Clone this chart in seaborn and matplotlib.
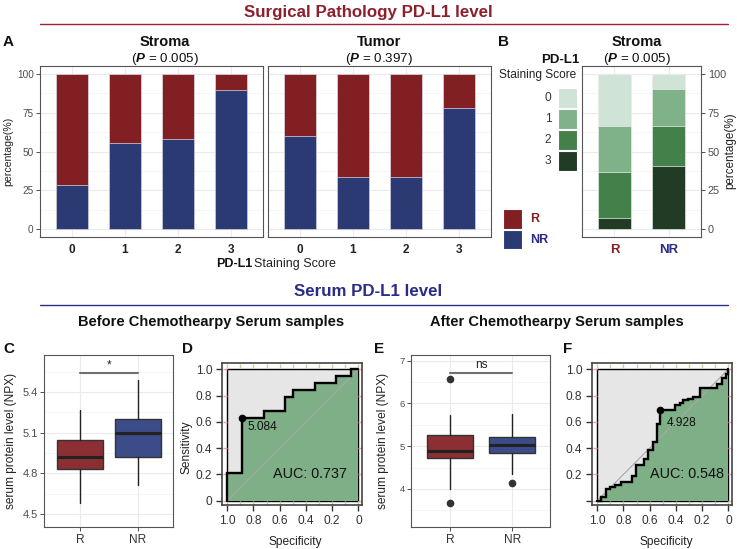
import numpy as np
import matplotlib
matplotlib.use("Agg")
import matplotlib.pyplot as plt
import seaborn as sns
from matplotlib.patches import Rectangle
from matplotlib.lines import Line2D

# ---------------- data ----------------
scores = ["0", "1", "2", "3"]
stroma_nr = [28.6, 55.6, 57.9, 89.5]
stroma_r = [71.4, 44.4, 42.1, 10.5]
tumor_nr = [60.0, 33.3, 33.3, 77.8]
tumor_r = [40.0, 66.7, 66.7, 22.2]

groups = ["R", "NR"]
b_score0 = [33.4, 9.6]
b_score1 = [29.8, 23.8]
b_score2 = [29.8, 26.2]
b_score3 = [7.0, 40.4]

# serum boxplot statistics (C: before, E: after)
c_whislo = [4.583, 4.714]
c_q1 = [4.830, 4.918]
c_med = [4.918, 5.095]
c_q3 = [5.043, 5.200]
c_whishi = [5.269, 5.490]
c_fliers = [[], []]
c_bracket = 5.542

e_whislo = [3.99, 4.36]
e_q1 = [4.727, 4.830]
e_med = [4.883, 5.016]
e_q3 = [5.250, 5.220]
e_whishi = [5.72, 5.75]
e_fliers = [[6.57, 3.68], [4.15]]
e_bracket = 6.72

# ROC curves (specificity, sensitivity vertices)
d_spec = [1, 1, 0.889, 0.889, 0.722, 0.722, 0.556, 0.556, 0.5, 0.5, 0.333, 0.333,
          0.167, 0.167, 0.056, 0.056, 0]
d_sens = [0, 0.211, 0.211, 0.632, 0.632, 0.684, 0.684, 0.789, 0.789, 0.842, 0.842,
          0.895, 0.895, 0.947, 0.947, 1, 1]
d_best = [0.889, 0.632]
d_thr = "5.084"
d_auc = "AUC: 0.737"

f_spec = [1, 0.970, 0.970, 0.937, 0.937, 0.906, 0.906, 0.863, 0.863, 0.818, 0.818,
          0.737, 0.737, 0.704, 0.704, 0.641, 0.641, 0.610, 0.610, 0.575, 0.575,
          0.547, 0.547, 0.524, 0.524, 0.405, 0.405, 0.372, 0.372, 0.342, 0.342,
          0.304, 0.304, 0.271, 0.271, 0.215, 0.215, 0.084, 0.084, 0.051, 0.051,
          0.018, 0.018, 0, 0]
f_sens = [0, 0, 0.025, 0.025, 0.087, 0.087, 0.104, 0.104, 0.120, 0.120, 0.140,
          0.140, 0.186, 0.186, 0.272, 0.272, 0.318, 0.318, 0.387, 0.387, 0.445,
          0.445, 0.585, 0.585, 0.687, 0.687, 0.725, 0.725, 0.746, 0.746, 0.763,
          0.763, 0.776, 0.776, 0.789, 0.789, 0.858, 0.858, 0.891, 0.891, 0.934,
          0.934, 0.967, 0.967, 1]
f_best = [0.524, 0.687]
f_thr = "4.928"
f_auc = "AUC: 0.548"

# ---------------- style ----------------
sns.set_style("white")
plt.rcParams["font.family"] = ["Liberation Sans", "DejaVu Sans"]
plt.rcParams["mathtext.fontset"] = "custom"
plt.rcParams["mathtext.rm"] = "Liberation Sans"
plt.rcParams["mathtext.bf"] = "Liberation Sans:italic:bold"

RED = "#821F23"
BLUE = "#2B3A73"
BOX_R = "#8B2F33"
BOX_NR = "#3C4C88"
GREENS = ["#CFE4D6", "#80B28A", "#43804A", "#213B24"]
TITLE_RED = "#8E1F2D"
TITLE_BLUE = "#2A2C85"
GRID = "#EBEBEB"
SPINE = "#555555"

W, H = 737, 549
fig = plt.figure(figsize=(W / 100, H / 100), dpi=100)


def add_ax(x0, y0, x1, y1):
    return fig.add_axes([x0 / W, 1 - y1 / H, (x1 - x0) / W, (y1 - y0) / H])


def style_frame(ax, color=SPINE, lw=0.8):
    for s in ax.spines.values():
        s.set_visible(True)
        s.set_color(color)
        s.set_linewidth(lw)


def pct_grid(ax):
    ax.set_ylim(-5, 105)
    ax.set_yticks([0, 25, 50, 75, 100])
    ax.set_yticks([12.5, 37.5, 62.5, 87.5], minor=True)
    ax.set_axisbelow(True)
    ax.grid(True, which="major", color=GRID, lw=0.8)
    ax.grid(True, which="minor", axis="y", color="#F3F3F3", lw=0.5)


# ---------------- panel A ----------------
for (x0, x1, nr, r, show_y) in [(40, 263, stroma_nr, stroma_r, True),
                                (268, 491, tumor_nr, tumor_r, False)]:
    ax = add_ax(x0, 66, x1, 237)
    total = np.add(nr, r)
    sns.barplot(x=scores, y=total, color=RED, saturation=1, width=0.6,
                edgecolor="#D9D9E6", linewidth=0.5, errorbar=None, ax=ax)
    sns.barplot(x=scores, y=nr, color=BLUE, saturation=1, width=0.6,
                edgecolor="#D9D9E6", linewidth=0.5, errorbar=None, ax=ax)
    ax.set_xlim(-0.6, 3.6)
    pct_grid(ax)
    ax.set_xlabel("")
    ax.set_ylabel("")
    ax.set_xticks(range(4))
    ax.set_xticklabels(scores, fontweight="bold")
    ax.tick_params(axis="x", length=3, width=0.6, color="#333333", labelsize=8.5,
                   labelcolor="#222222", pad=2)
    if show_y:
        ax.tick_params(axis="y", which="major", length=3, width=0.6, color="#333333",
                       labelsize=7.2, labelcolor="#4D4D4D", pad=1.5, left=True)
    else:
        ax.tick_params(axis="y", which="both", length=0, labelleft=False)
    ax.tick_params(axis="y", which="minor", length=0)
    style_frame(ax)

# ---------------- panel B ----------------
axb = add_ax(582, 66, 701, 237)
layers = np.array([b_score3, b_score2, b_score1, b_score0])
cum = np.cumsum(layers, axis=0)
for i, col in zip([3, 2, 1, 0], GREENS):
    sns.barplot(x=groups, y=cum[i], color=col, saturation=1, width=0.6,
                edgecolor="#E8EFE8", linewidth=0.5, errorbar=None, ax=axb)
axb.set_xlim(-0.6, 1.6)
pct_grid(axb)
axb.set_xlabel("")
axb.set_ylabel("")
axb.yaxis.tick_right()
axb.set_xticks([0, 1])
axb.set_xticklabels(groups, fontweight="bold")
for lbl, c in zip(axb.get_xticklabels(), [RED, TITLE_BLUE]):
    lbl.set_color(c)
axb.tick_params(axis="x", length=3, width=0.6, color="#333333", labelsize=9.5, pad=2)
axb.tick_params(axis="y", which="major", length=3, width=0.6, color="#333333",
                labelsize=7.8, labelcolor="#4D4D4D", pad=2, right=True, left=False)
axb.tick_params(axis="y", which="minor", length=0)
style_frame(axb)


# ---------------- panels C / E ----------------
def box_panel(x0, x1, whislo, q1, med, q3, whishi, fliers, ylim, major, minor,
              bracket, btxt, width, ticksize):
    ax = add_ax(x0, 355, x1, 527)
    stats = []
    for i in range(2):
        stats.append(dict(med=med[i], q1=q1[i], q3=q3[i], whislo=whislo[i],
                          whishi=whishi[i], fliers=fliers[i]))
    bp = ax.bxp(stats, positions=[0, 1], widths=width, patch_artist=True,
                showcaps=False, manage_ticks=False,
                boxprops=dict(edgecolor="#333333", linewidth=1.0),
                medianprops=dict(color="#222222", linewidth=2.2),
                whiskerprops=dict(color="#222222", linewidth=1.0),
                flierprops=dict(marker="o", markerfacecolor="#333333",
                                markeredgecolor="#333333", markersize=4.5))
    for patch, c in zip(bp["boxes"], [BOX_R, BOX_NR]):
        patch.set_facecolor(c)
    ax.plot([0, 1], [bracket, bracket], color="#707070", lw=1.5)
    ax.annotate(btxt, xy=(0.5, bracket), xytext=(0, 1), textcoords="offset points",
                ha="center", va="bottom", fontsize=8.5, color="#222222")
    ax.set_xlim(-0.63, 1.61)
    ax.set_ylim(*ylim)
    ax.set_yticks(major)
    ax.set_yticks(minor, minor=True)
    ax.set_xticks([0, 1])
    ax.set_xticklabels(groups)
    ax.set_axisbelow(True)
    ax.grid(True, which="major", color=GRID, lw=0.8)
    ax.grid(True, which="minor", axis="y", color="#F3F3F3", lw=0.5)
    ax.tick_params(axis="y", which="major", length=3, width=0.6, color="#333333",
                   labelsize=ticksize, labelcolor="#4D4D4D", pad=1.5, left=True)
    ax.tick_params(axis="y", which="minor", length=0)
    ax.tick_params(axis="x", length=3, width=0.6, color="#333333", labelsize=8.6,
                   labelcolor="#333333", pad=2, bottom=True)
    style_frame(ax)
    return ax


box_panel(44, 173, c_whislo, c_q1, c_med, c_q3, c_whishi, c_fliers,
          (4.404, 5.673), [4.5, 4.8, 5.1, 5.4], [4.65, 4.95, 5.25, 5.55],
          c_bracket, "*", 0.8, 8.0)
box_panel(411, 550, e_whislo, e_q1, e_med, e_q3, e_whishi, e_fliers,
          (3.11, 7.13), [4, 5, 6, 7], [3.5, 4.5, 5.5, 6.5],
          e_bracket, "ns", 0.75, 6.8)


# ---------------- panels D / F ----------------
def roc_panel(x0, x1, spec, sens, best, thr, auc, thr_pos, auc_pos, ylabels):
    ax = add_ax(x0, 363, x1, 505)
    ax.set_facecolor("white")
    ax.add_patch(Rectangle((0, 0), 1, 1, facecolor="#E6E6E6", edgecolor="black",
                           lw=1.0, zorder=0.5))
    ax.fill(np.r_[spec, 0, 1], np.r_[sens, 0, 0], color="#7FAF86", lw=0, zorder=1)
    ax.plot([1, 0], [0, 1], color="#A8A8A8", lw=0.8, zorder=1.5)
    ax.plot(spec, sens, color="black", lw=1.7, zorder=3, solid_joinstyle="miter")
    ax.plot([best[0]], [best[1]], "o", color="black", markersize=4.5, zorder=4)
    ax.text(thr_pos[0], thr_pos[1], thr, ha="left", va="center", fontsize=8.6,
            color="#111111", zorder=5)
    ax.text(auc_pos[0], auc_pos[1], auc, ha="left", va="center", fontsize=10.4,
            color="#111111", zorder=5)
    # small coloured grid stubs in the frame band
    for g in np.arange(0, 1.01, 0.1):
        ax.plot([g], [1.024], marker="|", color="#B5DC9A", markersize=2.2, zorder=2)
        ax.plot([g], [-0.016], marker="|", color="#B5DC9A", markersize=2.2, zorder=2)
    for g in np.arange(0, 1.01, 0.2):
        ax.plot([1.02], [g], marker="_", color="#F0A0A0", markersize=2.2, zorder=2)
        ax.plot([-0.014], [g], marker="_", color="#F0A0A0", markersize=2.2, zorder=2)
    ax.set_xlim(1.04, -0.028)
    ax.set_ylim(-0.033, 1.048)
    ticks = [1.0, 0.8, 0.6, 0.4, 0.2, 0.0]
    ax.set_xticks(ticks)
    ax.set_xticklabels(["1.0", "0.8", "0.6", "0.4", "0.2", "0"])
    ax.set_yticks(ticks)
    ax.set_yticklabels(ylabels)
    ax.tick_params(axis="both", length=4, width=1.0, color="#333333", labelsize=8.6,
                   labelcolor="#333333", pad=3, left=True, bottom=True)
    ax.grid(False)
    style_frame(ax, color="#444444", lw=1.2)
    return ax


roc_panel(222, 362, d_spec, d_sens, d_best, d_thr, d_auc, (0.842, 0.56), (0.65, 0.20),
          ["1.0", "0.8", "0.6", "0.4", "0.2", "0"])
roc_panel(592, 732, f_spec, f_sens, f_best, f_thr, f_auc, (0.468, 0.59), (0.595, 0.20),
          ["1.0", "0.8", "0.6", "0.4", "0.2", ""])

# ---------------- overlay texts ----------------
ov = fig.add_axes([0, 0, 1, 1])
ov.set_xlim(0, W)
ov.set_ylim(H, 0)
ov.axis("off")


def t(x, y, s, size, weight="normal", color="#111111", ha="center", va="center", rot=0):
    ov.text(x, y, s, fontsize=size, fontweight=weight, color=color, ha=ha, va=va,
            rotation=rot)


t(368, 12, "Surgical Pathology PD-L1 level", 12.2, "bold", TITLE_RED)
ov.add_line(Line2D([40, 728], [23.5, 23.5], color="#9B2335", lw=1.0))
t(3, 42, "A", 11, "bold", ha="left")
t(165, 42, "Stroma", 10.5, "bold")
t(165, 59, r"($\mathbf{P}$ = 0.005)", 9.6)
t(379, 42, "Tumor", 10.5, "bold")
t(379, 59, r"($\mathbf{P}$ = 0.397)", 9.6)
t(498, 42, "B", 11, "bold", ha="left")
t(637, 42, "Stroma", 10.5, "bold")
t(637, 59, r"($\mathbf{P}$ = 0.005)", 9.6)
t(8, 151, "percentage(%)", 7.6, color="#222222", rot=90)
t(252, 264, "PD-L1", 9, "bold", ha="right")
t(254.5, 264, "Staining Score", 9, ha="left", color="#222222")
t(730, 151, "percentage(%)", 8.4, color="#222222", rot=90)

# legend A (R / NR)
ov.add_patch(Rectangle((503, 209), 19, 20, facecolor=RED, edgecolor="white", lw=0.8))
ov.add_patch(Rectangle((503, 230), 19, 19, facecolor=BLUE, edgecolor="white", lw=0.8))
t(530, 219, "R", 9, "bold", RED, ha="left")
t(530, 240, "NR", 9, "bold", TITLE_BLUE, ha="left")

# legend B (staining score)
t(560, 60, "PD-L1", 9.5, "bold")
t(538, 75, "Staining Score", 8.6, color="#222222")
for i, (sc, col) in enumerate(zip(scores, GREENS)):
    y0 = 88 + 21 * i
    ov.add_patch(Rectangle((558, y0), 19.5, 19.5, facecolor=col, edgecolor="white", lw=0.8))
    t(548, y0 + 9.8, sc, 8.6, color="#333333")

t(368, 291, "Serum PD-L1 level", 12.2, "bold", TITLE_BLUE)
ov.add_line(Line2D([40, 728], [305, 305], color="#2B2F86", lw=1.0))
t(211, 322, "Before Chemothearpy Serum samples", 10.5, "bold")
t(557, 322, "After Chemothearpy Serum samples", 10.5, "bold")
t(3, 349, "C", 11, "bold", ha="left")
t(182, 349, "D", 11, "bold", ha="left")
t(374, 349, "E", 11, "bold", ha="left")
t(563, 349, "F", 11, "bold", ha="left")
t(11, 441, "serum protein level (NPX)", 8.6, color="#222222", rot=90)
t(383, 441, "serum protein level (NPX)", 8.6, color="#222222", rot=90)
t(187, 447, "Sensitivity", 8.6, color="#222222", rot=90)
t(295, 542, "Specificity", 8.6, color="#222222")
t(666, 542, "Specificity", 8.6, color="#222222")

fig.savefig("out.png", dpi=100)
